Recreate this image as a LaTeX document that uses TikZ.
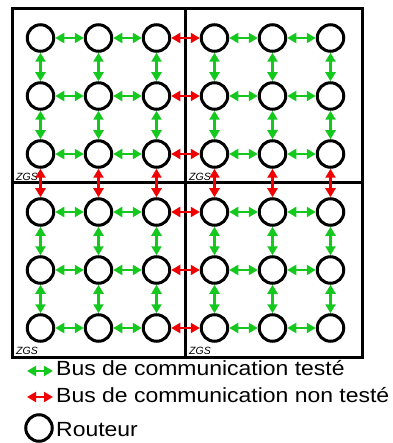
\documentclass[tikz,border=0pt]{standalone}
\usepackage{fontspec}
\setmainfont{Liberation Sans}
\usetikzlibrary{arrows.meta,positioning}
\definecolor{busok}{RGB}{20,200,30}
\definecolor{busko}{RGB}{240,0,0}

\newcommand{\largeur}[1]{\scalebox{1.12}[1]{#1}}

\tikzset{
  routeur/.style={circle,draw=black,line width=3pt,minimum size=26.5pt,inner sep=0pt},
  bus/.style={{Triangle[width=10pt,length=9pt]}-{Triangle[width=10pt,length=9pt]},line width=2.6pt},
  zone/.style={draw=black,line width=3pt},
  zgs/.style={anchor=base west,inner sep=0pt,font=\fontsize{10.5}{12}\selectfont\itshape},
  legende/.style={anchor=base west,inner sep=0pt,font=\fontsize{20.5}{24}\selectfont}
}

\begin{document}
\begin{tikzpicture}[x=1pt,y=-1pt]
        \useasboundingbox (0,0) rectangle (392,443);
        % zones
        \draw[zone] (12,9) rectangle (362,357);
        \draw[zone] (185,9) -- (185,357);
        \draw[zone] (12,183) -- (362,183);
        \node[zgs] (z1) at (16,180.5) {ZGS};
        \node[zgs] (z2) at (189,180.5) {ZGS};
        \node[zgs] (z3) at (16,354.5) {ZGS};
        \node[zgs] (z4) at (189,354.5) {ZGS};
        % routeurs
        \foreach \i in {0,...,5}
          \foreach \j in {0,...,5}
            \node[routeur] (r\i\j) at ({40.5+58*\i},{38+58*\j}) {};
        % bus horizontaux
        \foreach \i/\k in {0/1,1/2,3/4,4/5}
          \foreach \j in {0,...,5}
            \draw[bus,busok] (r\i\j) -- (r\k\j);
        \foreach \j in {0,...,5} \draw[bus,busko] (r2\j) -- (r3\j);
        % bus verticaux
        \foreach \j/\k in {0/1,1/2,3/4,4/5}
          \foreach \i in {0,...,5}
            \draw[bus,busok] (r\i\j) -- (r\i\k);
        \foreach \i in {0,...,5} \draw[bus,busko] (r\i2) -- (r\i3);
        % legende
        \coordinate (l1a) at (27,371);
        \coordinate (l1b) at (53,371);
        \coordinate (l2a) at (27,397);
        \coordinate (l2b) at (53,397);
        \draw[bus,busok,line width=2pt] (l1a) -- (l1b);
        \draw[bus,busko,line width=2pt] (l2a) -- (l2b);
        \node[legende] (t1) at (56,375.5) {\largeur{Bus de communication testé}};
        \node[legende] (t2) at (56,402) {\largeur{Bus de communication non testé}};
        \node[routeur] (lr) at (39,428) {};
        \node[legende] (t3) at (56,436) {\largeur{Routeur}};
      \end{tikzpicture}
\end{document}
